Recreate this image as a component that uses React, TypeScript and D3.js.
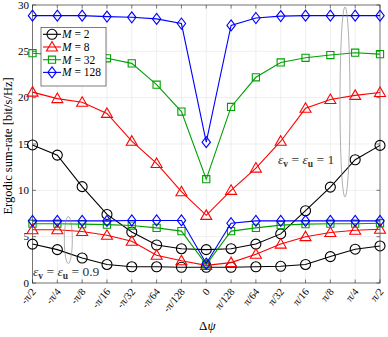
import React from 'react';
import * as d3 from 'd3';

// tick labels along the x axis (phase offset)
const categories = ['-π/2', '-π/4', '-π/8', '-π/16', '-π/32', '-π/64', '-π/128', '0',
  'π/128', 'π/64', 'π/32', 'π/16', 'π/8', 'π/4', 'π/2'];

const yTicks = [0, 5, 10, 15, 20, 25, 30];

// eps_v = eps_u = 1
const m2Ideal = [14.9, 13.8, 10.4, 7.4, 5.5, 4.1, 3.7, 3.6, 3.7, 4.2, 5.3, 7.8, 10.35, 13.3, 14.85];
const m8Ideal = [20.6, 19.9, 19.5, 18.3, 15.3, 12.9, 9.85, 7.3, 10.0, 12.4, 15.3, 18.85, 19.8, 20.25, 20.55];
const m32Ideal = [24.8, 24.6, 24.5, 24.25, 23.7, 21.4, 18.5, 11.2, 19.0, 22.2, 23.8, 24.3, 24.6, 24.85, 24.7];
const m128Ideal = [28.85, 28.85, 28.85, 28.75, 28.67, 28.5, 28.0, 15.2, 27.8, 28.6, 28.8, 28.85, 28.85, 28.85, 28.85];

// eps_v = eps_u = 0.9
const m2Imp = [4.2, 3.6, 2.7, 2.0, 1.75, 1.75, 1.7, 1.7, 1.7, 1.75, 1.8, 2.0, 2.85, 3.65, 4.0];
const m8Imp = [5.75, 5.75, 5.55, 5.15, 4.5, 3.0, 2.4, 1.9, 2.2, 3.1, 4.2, 5.0, 5.45, 5.7, 5.8];
const m32Imp = [6.4, 6.4, 6.35, 6.3, 6.2, 5.95, 5.6, 2.0, 5.6, 5.95, 6.25, 6.35, 6.4, 6.4, 6.45];
const m128Imp = [6.7, 6.7, 6.7, 6.7, 6.75, 6.75, 6.75, 2.1, 6.45, 6.7, 6.7, 6.7, 6.7, 6.7, 6.7];

type Marker = 'circle' | 'triangle' | 'square' | 'diamond';

const series = [
  { label: '2', color: '#000000', marker: 'circle' as Marker, ideal: m2Ideal, imp: m2Imp },
  { label: '8', color: '#ff0000', marker: 'triangle' as Marker, ideal: m8Ideal, imp: m8Imp },
  { label: '32', color: '#00a000', marker: 'square' as Marker, ideal: m32Ideal, imp: m32Imp },
  { label: '128', color: '#0000ff', marker: 'diamond' as Marker, ideal: m128Ideal, imp: m128Imp },
];

const W = 388;
const H = 337;
const left = 32.5, right = 380, top = 5, bottom = 283;
const font = '"Liberation Serif", "DejaVu Serif", serif';

function markerPath(kind: Marker, x: number, y: number): string {
  if (kind === 'circle') {
    return `M${x - 5},${y} a5,5 0 1,0 10,0 a5,5 0 1,0 -10,0`;
  }
  if (kind === 'triangle') {
    return `M${x},${y - 5.5} L${x + 5.5},${y + 4} L${x - 5.5},${y + 4} Z`;
  }
  if (kind === 'square') {
    return `M${x - 3.6},${y - 3.6} h7.2 v7.2 h-7.2 Z`;
  }
  return `M${x},${y - 5.5} L${x + 4.2},${y} L${x},${y + 5.5} L${x - 4.2},${y} Z`;
}

function EpsLabel({ x, y, value }: { x: number; y: number; value: string }) {
  return (
    <text x={x} y={y} fontSize={13.5} fill="#333">
      <tspan fontStyle="italic">ε</tspan><tspan fontWeight="bold" fontSize={9.5} dy={2.5}>v</tspan>
      <tspan dy={-2.5}> = </tspan>
      <tspan fontStyle="italic">ε</tspan><tspan fontWeight="bold" fontSize={9.5} dy={2.5}>u</tspan>
      <tspan dy={-2.5}> = {value}</tspan>
    </text>
  );
}

export default function App() {
  const x = d3.scalePoint<string>().domain(categories).range([left, right]);
  const y = d3.scaleLinear().domain([0, 30]).range([bottom, top]);

  const line = d3.line<number>()
    .x((_, i) => x(categories[i]) as number)
    .y((d) => y(d));

  const axisColor = '#262626';

  const drawSeries = (s: typeof series[number], vals: number[], key: string) => (
    <g key={key}>
      <path d={line(vals) || ''} fill="none" stroke={s.color} strokeWidth={1.1} />
      {vals.map((v, i) => (
        <path key={i} d={markerPath(s.marker, x(categories[i]) as number, y(v))}
          fill="none" stroke={s.color} strokeWidth={1.1} />
      ))}
    </g>
  );

  const legX = 41, legY = 27.5, legRow = 12.7;

  return (
    <svg width={W} height={H} style={{ position: 'absolute', left: 0, top: 0, background: '#fff' }}
      fontFamily={font}>
      <rect x={0} y={0} width={W} height={H} fill="#fff" />
      {/* grid */}
      {categories.map((c) => (
        <line key={'gx' + c} x1={x(c)} x2={x(c)} y1={top} y2={bottom} stroke="#e4e4e4" strokeWidth={0.6} />
      ))}
      {yTicks.map((t) => (
        <line key={'gy' + t} x1={left} x2={right} y1={y(t)} y2={y(t)} stroke="#e4e4e4" strokeWidth={0.6} />
      ))}

      {/* axis box and ticks */}
      <rect x={left} y={top} width={right - left} height={bottom - top} fill="none" stroke={axisColor} strokeWidth={0.6} />
      {categories.map((c) => (
        <g key={'tx' + c}>
          <line x1={x(c)} x2={x(c)} y1={bottom} y2={bottom - 3.5} stroke={axisColor} strokeWidth={0.6} />
          <line x1={x(c)} x2={x(c)} y1={top} y2={top + 3.5} stroke={axisColor} strokeWidth={0.6} />
          <text transform={`translate(${(x(c) as number) + 4},${bottom + 9}) rotate(-50)`}
            textAnchor="end" fontSize={10.5} fill="#000">{c}</text>
        </g>
      ))}
      {yTicks.map((t) => (
        <g key={'ty' + t}>
          <line x1={left} x2={left + 3.5} y1={y(t)} y2={y(t)} stroke={axisColor} strokeWidth={0.6} />
          <line x1={right} x2={right - 3.5} y1={y(t)} y2={y(t)} stroke={axisColor} strokeWidth={0.6} />
          <text x={left - 3.5} y={y(t) + 3.8} textAnchor="end" fontSize={11} fill="#000">{t}</text>
        </g>
      ))}

      {/* axis titles */}
      <text transform={`translate(12,${(top + bottom) / 2 + 2}) rotate(-90)`} textAnchor="middle"
        fontSize={12.5} fill="#000">Ergodic sum-rate [bit/s/Hz]</text>
      <text x={(left + right) / 2 + 1} y={330} textAnchor="middle" fontSize={13} fill="#000">
        Δ<tspan fontStyle="italic">ψ</tspan>
      </text>

      {/* data */}
      {series.map((s) => drawSeries(s, s.ideal, 'i' + s.label))}
      {series.map((s) => drawSeries(s, s.imp, 'p' + s.label))}

      {/* annotations */}
      <ellipse cx={345} cy={102} rx={5} ry={95} fill="none" stroke="#8c8c8c" strokeWidth={0.7} />
      <EpsLabel x={278} y={164} value="1" />
      <ellipse cx={68.3} cy={240} rx={4} ry={23.5} fill="none" stroke="#8c8c8c" strokeWidth={0.7} />
      <EpsLabel x={33} y={276} value="0.9" />

      {/* legend */}
      <rect x={legX} y={legY} width={65} height={58.5} fill="#fff" stroke="#262626" strokeWidth={0.6} />
      {series.map((s, i) => {
        const cy = legY + 6.8 + i * legRow;
        return (
          <g key={'leg' + s.label}>
            <line x1={legX + 2} x2={legX + 20} y1={cy} y2={cy} stroke={s.color} strokeWidth={1.1} />
            <path d={markerPath(s.marker, legX + 11, cy)} fill="none" stroke={s.color} strokeWidth={1.1} />
            <text x={legX + 21} y={cy + 3.8} fontSize={11.5} fill="#000">
              <tspan fontStyle="italic">M</tspan> = {s.label}
            </text>
          </g>
        );
      })}
    </svg>
  );
}
